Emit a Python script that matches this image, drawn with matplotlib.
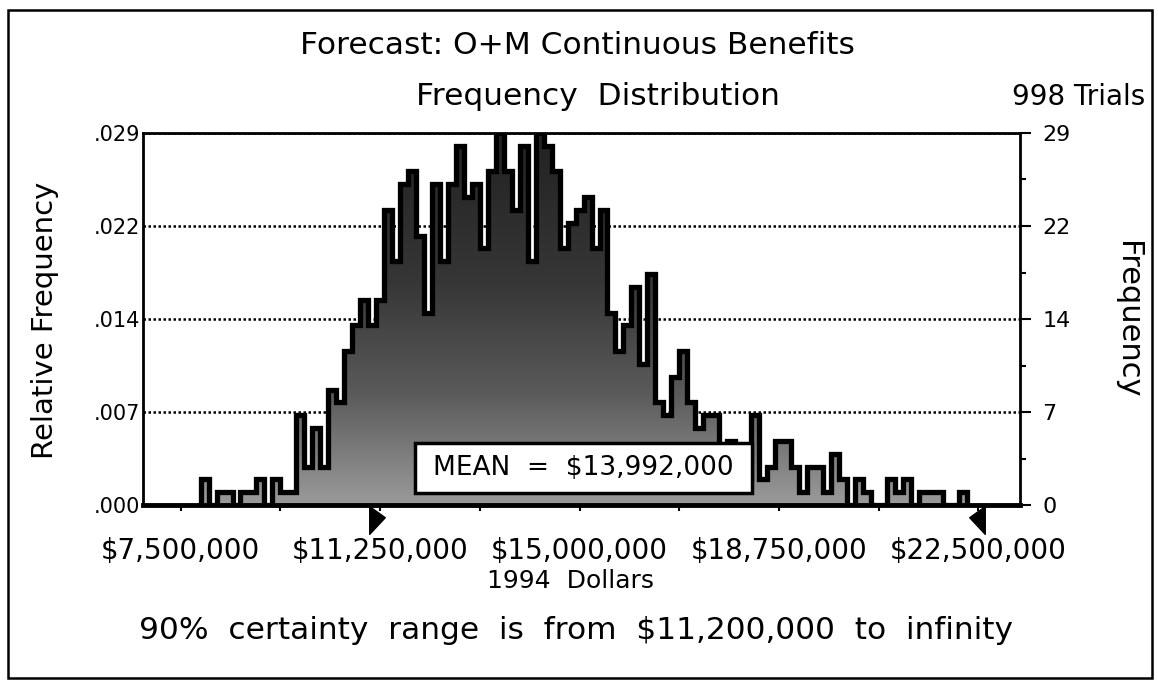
import numpy as np
import matplotlib.pyplot as plt
from matplotlib.colors import LinearSegmentedColormap
from matplotlib.patches import Rectangle
import matplotlib.transforms as mtransforms

plt.rcParams['font.family'] = ['DejaVu Sans']

# frequency per bin (998 trials), bins of $150,000 starting at $7,875,000
counts = [2, 0, 1, 1, 0, 1, 1, 2, 0, 2, 1, 1,
          7, 3, 6, 3, 9, 8, 12, 14, 16, 14, 16, 23, 19, 25, 26, 21, 15,
          25, 19, 25, 28, 24, 25, 20, 26, 29, 26, 23, 28, 19, 29, 28, 26, 20, 22, 23, 24,
          20, 23, 15, 12, 14, 17, 11, 18, 8, 7, 10, 12, 8, 6, 7, 7,
          4, 5, 3, 2,
          7, 2, 3, 5, 5, 3, 1, 3, 3, 1, 4, 2, 0, 2, 1,
          0, 0, 2, 1, 2, 0, 1, 1, 1, 0, 0, 1]
bin_left = 7_875_000
bin_width = 150_000
trials = 998
mean_value = 13_992_000
certainty_low = 11_200_000
certainty_high_marker = 22_470_000

x_ticks = [7_500_000, 11_250_000, 15_000_000, 18_750_000, 22_500_000]
x_labels = ['$7,500,000', '$11,250,000', '$15,000,000', '$18,750,000', '$22,500,000']
freq_max = 29
freq_ticks = [0, 7.25, 14.5, 21.75, 29]
freq_labels = ['0', '7', '14', '22', '29']
rel_labels = ['.000', '.007', '.014', '.022', '.029']

xmin, xmax = 6_786_000, 23_280_000

fig = plt.figure(figsize=(11.58, 6.82), dpi=100)
ax = fig.add_axes([0.1232, 0.2595, 0.7576, 0.5455])

edges = bin_left + bin_width * np.arange(len(counts) + 1)

# dark gray body, lighter toward the base, thick black step outline
body = ax.stairs(counts, edges, baseline=0, fill=True, facecolor='#555555',
                 edgecolor='none', zorder=2)
shade = LinearSegmentedColormap.from_list(
    'shade', [(0, '#9a9a9a'), (0.3, '#5a5a5a'), (0.6, '#363636'), (1, '#222222')])
grad = np.linspace(0, 1, 256).reshape(-1, 1)
im = ax.imshow(grad, extent=[xmin, xmax, 0, freq_max], origin='lower', cmap=shade,
               aspect='auto', zorder=2.1, interpolation='bilinear')
im.set_clip_path(body)
ax.stairs(counts, edges, baseline=0, fill=False, color='black', lw=3.8, zorder=3)

ax.set_xlim(xmin, xmax)
ax.set_ylim(0, freq_max)

ax.set_yticks(freq_ticks)
ax.set_yticklabels(rel_labels, fontsize=15)
ax.yaxis.grid(True, linestyle=(0, (1, 1)), color='black', lw=1.8)
ax.set_axisbelow(True)
ax.tick_params(axis='y', length=0, pad=2)

ax.set_xticks(x_ticks)
ax.set_xticklabels(x_labels, fontsize=20)
ax.set_xticks(np.arange(7_500_000, 22_500_001, 1_875_000), minor=True)
ax.tick_params(axis='x', which='both', length=4, width=1.5, pad=19)

for s in ax.spines.values():
    s.set_linewidth(2)
ax.spines['bottom'].set_linewidth(3.5)

ax2 = ax.twinx()
ax2.set_ylim(0, freq_max)
ax2.set_yticks(freq_ticks)
ax2.set_yticklabels(freq_labels, fontsize=16)
ax2.set_yticks(np.arange(freq_max / 8, freq_max, freq_max / 4), minor=True)
ax2.tick_params(axis='y', which='major', length=8, width=1.5, pad=8)
ax2.tick_params(axis='y', which='minor', length=4, width=1.5)
for s in ax2.spines.values():
    s.set_visible(False)

# certainty range markers
trans = mtransforms.blended_transform_factory(ax.transData, ax.transAxes)
right_tri = [(-0.28, 0.5), (0.28, 0.1), (-0.28, -0.5), (-0.28, 0.5)]
left_tri = [(0.28, 0.5), (-0.28, 0.1), (0.28, -0.5), (0.28, 0.5)]
ax.plot([certainty_low], [-0.04], marker=right_tri, ms=20, color='black',
        transform=trans, clip_on=False, zorder=5)
ax.plot([certainty_high_marker], [-0.04], marker=left_tri, ms=20, color='black',
        transform=trans, clip_on=False, zorder=5)

# mean box
ax.add_patch(Rectangle((0.3104, 0.032), 0.3841, 0.1347, transform=ax.transAxes,
                       facecolor='white', edgecolor='black', lw=2.5, zorder=6))
ax.text(0.502, 0.0995, 'MEAN  =  ${:,}'.format(mean_value), transform=ax.transAxes,
        ha='center', va='center', fontsize=19, zorder=7)

fig.text(0.499, 0.934, 'Forecast: O+M Continuous Benefits', ha='center', va='center', fontsize=22.5)
fig.text(0.516, 0.858, 'Frequency  Distribution', ha='center', va='center', fontsize=22.5)
fig.text(0.989, 0.858, '{} Trials'.format(trials), ha='right', va='center', fontsize=20)
fig.text(0.039, 0.53, 'Relative Frequency', rotation=90, ha='center', va='center', fontsize=21)
fig.text(0.974, 0.531, 'Frequency', rotation=270, ha='center', va='center', fontsize=22)
fig.text(0.493, 0.148, '1994  Dollars', ha='center', va='center', fontsize=18)
fig.text(0.497, 0.076, '90%  certainty  range  is  from  ${:,}  to  infinity'.format(certainty_low),
         ha='center', va='center', fontsize=22.5)

fig.add_artist(Rectangle((0.007, 0.006), 0.988, 0.98, transform=fig.transFigure,
                         fill=False, lw=1.8, ec='black'))

fig.savefig('out.png', dpi=100)
